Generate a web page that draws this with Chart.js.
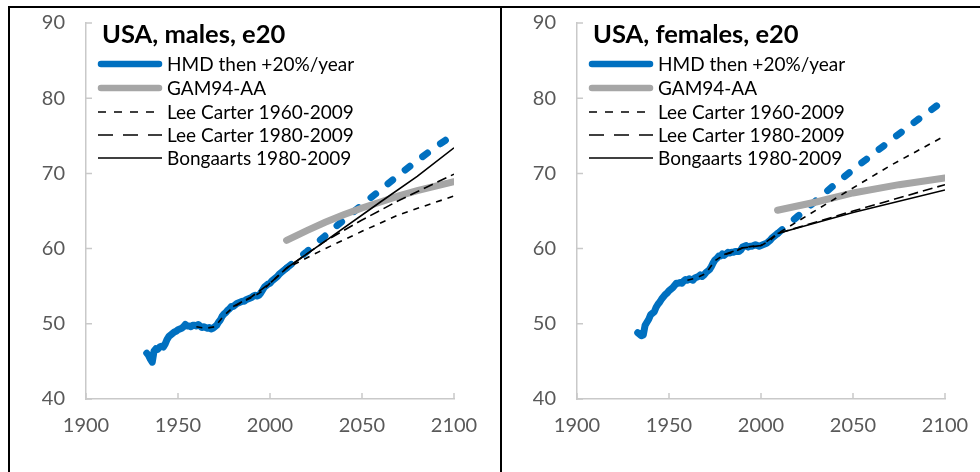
<!DOCTYPE html>
<html lang="en">
<head>
  <meta charset="UTF-8">
  <title>USA e20</title>
  <script src="https://cdn.jsdelivr.net/npm/chart.js"></script>
  <style>
    body { margin: 0; background: #fff; width: 980px; height: 472px; overflow: hidden; position: relative; }
    .rule { position: absolute; background: #000; }
    .panel { position: absolute; top: 8px; height: 464px; }
  </style>
</head>
<body>
  <div class="rule" style="left:8px; top:6px; width:972px; height:2px;"></div>
  <div class="rule" style="left:8px; top:6px; width:2px; height:466px;"></div>
  <div class="rule" style="left:500px; top:6px; width:2px; height:466px;"></div>

  <div class="panel" style="left:10px; width:490px;"><canvas id="graficoMales"></canvas></div>
  <div class="panel" style="left:502px; width:478px;"><canvas id="graficoFemales"></canvas></div>

  <script>
    // axes
    const xTicks = [1900, 1950, 2000, 2050, 2100];
    const yTicks = [40, 50, 60, 70, 80, 90];

    // ---- males ----
    const mHistYears = [1933,1934,1935,1936,1937,1938,1939,1940,1941,1942,1943,1944,1945,1946,1947,1948,1949,1950,
      1951,1952,1953,1954,1955,1956,1957,1958,1959,1960,1961,1962,1963,1964,1965,1966,1967,1968,1969,1970,
      1971,1972,1973,1974,1975,1976,1977,1978,1979,1980,1981,1982,1983,1984,1985,1986,1987,1988,1989,1990,
      1991,1992,1993,1994,1995,1996,1997,1998,1999,2000,2001,2002,2003,2004,2005,2006,2007,2008,2009];
    const mHist = [46.1,45.8,45.3,44.9,46.4,46.7,46.6,46.9,47.0,46.9,47.3,47.9,48.3,48.5,48.7,48.9,49.0,49.2,
      49.3,49.4,49.6,49.9,49.7,49.7,49.6,49.8,49.8,49.7,49.9,49.7,49.5,49.6,49.5,49.4,49.5,49.3,49.4,49.6,
      49.8,50.2,50.5,51.0,51.3,51.5,51.8,52.0,52.3,52.3,52.5,52.7,52.8,52.9,53.0,53.0,53.2,53.3,53.4,53.5,
      53.7,53.8,53.7,53.8,54.1,54.5,54.9,55.1,55.3,55.4,55.7,55.9,56.1,56.3,56.6,56.8,57.0,57.2,57.4];
    const mProjYears = [2009,2020,2030,2040,2050,2060,2070,2080,2090,2100];
    const mProj = [57.4,59.6,61.7,63.8,65.8,67.8,69.8,71.7,73.5,75.2];
    const mGamYears = [2009,2020,2030,2040,2050,2060,2070,2080,2090,2100];
    const mGam = [61.1,62.4,63.5,64.5,65.4,66.2,67.0,67.7,68.3,68.9];
    const mLc60Years = [1960,1965,1970,1975,1980,1985,1990,1995,2000,2005,2009,2030,2050,2070,2100];
    const mLc60 = [49.6,49.4,49.6,51.1,52.2,52.9,53.5,54.2,55.4,56.5,57.4,60.0,62.3,64.5,67.0];
    const mLc80Years = [1980,1990,2000,2009,2030,2050,2070,2100];
    const mLc80 = [52.3,53.6,55.4,57.4,61.0,63.8,66.4,69.9];
    const mBongYears = [2009,2030,2060,2080,2100];
    const mBong = [57.4,61.0,66.2,69.6,73.4];

    // ---- females ----
    const fHistYears = mHistYears;
    const fHist = [48.8,48.6,48.4,48.5,49.8,50.2,50.6,51.2,51.4,51.6,52.2,52.6,52.9,53.3,53.6,53.9,54.1,54.4,
      54.6,54.8,55.1,55.4,55.4,55.5,55.4,55.7,55.9,55.8,56.0,55.9,55.8,56.1,56.2,56.3,56.5,56.3,56.5,56.8,
      57.0,57.2,57.6,58.1,58.5,58.7,59.0,59.0,59.3,59.1,59.3,59.5,59.4,59.5,59.5,59.6,59.6,59.6,59.8,60.2,
      60.3,60.4,60.2,60.3,60.3,60.4,60.5,60.4,60.3,60.4,60.5,60.6,60.7,60.9,61.1,61.4,61.6,61.8,62.0];
    const fProjYears = [2009,2020,2030,2040,2050,2060,2070,2080,2090,2100];
    const fProj = [62.0,64.3,66.4,68.5,70.5,72.4,74.3,76.2,78.0,79.8];
    const fGamYears = [2009,2030,2050,2075,2100];
    const fGam = [65.1,66.2,67.4,68.5,69.4];
    const fLc60Years = [1960,1965,1970,1975,1980,1985,1990,1995,2000,2005,2009,2040,2070,2100];
    const fLc60 = [55.8,56.1,56.7,58.4,59.2,59.5,60.1,60.3,60.4,61.1,62.0,66.6,71.0,75.0];
    const fLc80Years = [1980,1990,2000,2009,2050,2100];
    const fLc80 = [59.2,60.1,60.4,62.0,65.0,68.5];
    const fBongYears = [2009,2050,2100];
    const fBong = [62.0,64.8,67.8];

    const legendLabels = ['HMD then +20%/year', 'GAM94-AA', 'Lee Carter 1960-2009', 'Lee Carter 1980-2009', 'Bongaarts 1980-2009'];

    const BLUE = '#0070C0';
    const GREY = '#A6A6A6';
    const AXIS = '#C9C9C9';
    const FONT = 'Lato, "Open Sans", sans-serif';

    const pts = (xs, ys) => xs.map((x, i) => ({ x: x, y: ys[i] }));

    // legend samples: [color, width, dash]
    const legendStyles = [
      [BLUE, 6.5, []],
      [GREY, 6.5, []],
      ['#000', 1.7, [8, 8]],
      ['#000', 1.7, [15, 10]],
      ['#000', 1.7, []]
    ];

    const decorPlugin = {
      id: 'decor',
      afterDraw(chart) {
        const ctx = chart.ctx;
        const xs = chart.scales.x, ys = chart.scales.y;
        const a = chart.chartArea;
        ctx.save();
        // inside tick marks
        ctx.strokeStyle = AXIS;
        ctx.lineWidth = 1.5;
        ctx.beginPath();
        xTicks.forEach(v => {
          const px = xs.getPixelForValue(v);
          ctx.moveTo(px, a.bottom);
          ctx.lineTo(px, a.bottom - 6);
        });
        yTicks.forEach(v => {
          const py = ys.getPixelForValue(v);
          ctx.moveTo(a.left, py);
          ctx.lineTo(a.left + 6, py);
        });
        ctx.stroke();

        // title
        ctx.fillStyle = '#000';
        ctx.font = 'bold 25.5px ' + FONT;
        ctx.textBaseline = 'middle';
        ctx.fillText(chart.options.plugins.panelTitle, a.left + 16, 27);

        // legend
        ctx.font = '19px ' + FONT;
        const rows = [56, 80, 104, 127, 150];
        legendStyles.forEach((s, i) => {
          const thick = s[1] > 3;
          ctx.strokeStyle = s[0];
          ctx.lineWidth = s[1];
          ctx.lineCap = thick ? 'round' : 'butt';
          ctx.setLineDash(s[2]);
          ctx.beginPath();
          ctx.moveTo(a.left + 12 + (thick ? 3 : 0), rows[i]);
          ctx.lineTo(a.left + 76 - (thick ? 3 : 0), rows[i]);
          ctx.stroke();
          ctx.setLineDash([]);
          ctx.fillText(legendLabels[i], a.left + 81, rows[i] + 1);
        });
        ctx.restore();
      }
    };

    function criarPainel(canvasId, title, d, yWidth, padRight) {
      const thin = (label, data, dash) => ({
        label: label, data: data, borderColor: '#000', borderWidth: 1.6,
        borderDash: dash, pointRadius: 0, order: 0
      });
      return new Chart(document.getElementById(canvasId), {
        type: 'line',
        data: {
          datasets: [
            thin(legendLabels[2], d.lc60, [6, 6]),
            thin(legendLabels[3], d.lc80, [10, 5]),
            thin(legendLabels[4], d.bong, []),
            { label: legendLabels[1], data: d.gam, borderColor: GREY, borderWidth: 7,
              borderCapStyle: 'round', pointRadius: 0, order: 1 },
            { label: legendLabels[0], data: d.hist, borderColor: BLUE, borderWidth: 7,
              borderCapStyle: 'round', borderJoinStyle: 'round', pointRadius: 0, order: 2 },
            { label: legendLabels[0] + ' proj', data: d.proj, borderColor: BLUE, borderWidth: 7,
              borderCapStyle: 'round', borderDash: [6, 16], pointRadius: 0, order: 2 }
          ]
        },
        options: {
          responsive: true,
          maintainAspectRatio: false,
          animation: false,
          layout: { padding: { top: 15, right: padRight, left: 0, bottom: 0 } },
          plugins: { legend: { display: false }, tooltip: { enabled: false }, panelTitle: title },
          scales: {
            x: {
              type: 'linear', min: 1900, max: 2100,
              afterBuildTicks: s => { s.ticks = xTicks.map(v => ({ value: v })); },
              afterFit: s => { s.height = 73; s.paddingLeft = 0; s.paddingRight = 0; },
              grid: { display: true, drawOnChartArea: false, drawTicks: false },
              border: { color: AXIS, width: 1.5 },
              ticks: { color: '#595959', font: { family: FONT, size: 20 }, padding: 15,
                       maxRotation: 0, callback: v => String(v) }
            },
            y: {
              min: 40, max: 90,
              afterBuildTicks: s => { s.ticks = yTicks.map(v => ({ value: v })); },
              afterFit: s => { s.width = yWidth; s.paddingTop = 0; s.paddingBottom = 0; },
              grid: { display: true, drawOnChartArea: false, drawTicks: false },
              border: { color: AXIS, width: 1.5 },
              ticks: { color: '#595959', font: { family: FONT, size: 20 }, padding: 21,
                       callback: v => String(v) }
            }
          }
        },
        plugins: [decorPlugin]
      });
    }

    criarPainel('graficoMales', 'USA, males, e20', {
      hist: pts(mHistYears, mHist), proj: pts(mProjYears, mProj), gam: pts(mGamYears, mGam),
      lc60: pts(mLc60Years, mLc60), lc80: pts(mLc80Years, mLc80), bong: pts(mBongYears, mBong)
    }, 76, 46);

    criarPainel('graficoFemales', 'USA, females, e20', {
      hist: pts(fHistYears, fHist), proj: pts(fProjYears, fProj), gam: pts(fGamYears, fGam),
      lc60: pts(fLc60Years, fLc60), lc80: pts(fLc80Years, fLc80), bong: pts(fBongYears, fBong)
    }, 75, 35);
  </script>
</body>
</html>
